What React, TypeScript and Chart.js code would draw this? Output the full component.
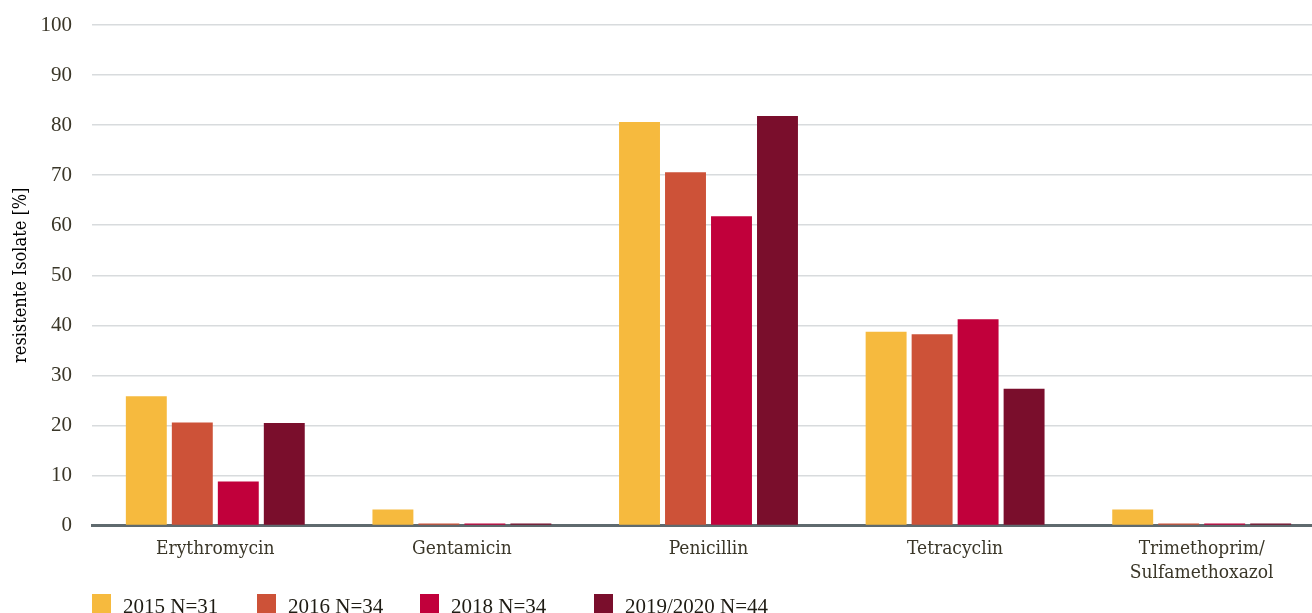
import React, { useEffect, useRef } from "react";
import { Chart, registerables } from "chart.js";

Chart.register(...registerables);

const categories: (string | string[])[] = [
  "Erythromycin",
  "Gentamicin",
  "Penicillin",
  "Tetracyclin",
  ["Trimethoprim/", "Sulfamethoxazol"],
];

const seriesLabels = ["2015 N=31", "2016 N=34", "2018 N=34", "2019/2020 N=44"];
const values2015 = [25.8, 3.2, 80.6, 38.7, 3.2];
const values2016 = [20.6, 0, 70.6, 38.2, 0];
const values2018 = [8.8, 0, 61.8, 41.2, 0];
const values2019 = [20.5, 0, 81.8, 27.3, 0];
const seriesColors = ["#F6BA3E", "#CD5238", "#C1003B", "#7A0E2C"];
const yTicks = [0, 10, 20, 30, 40, 50, 60, 70, 80, 90, 100];

const NUM_FONT = "'Liberation Serif', serif";
const TXT_FONT = "'DejaVu Serif Condensed', 'DejaVu Serif', serif";
const TEXT = "#3a3628";
const legendLefts = [92, 257, 420, 594];

export default function App() {
  const ref = useRef<HTMLCanvasElement>(null);
  useEffect(() => {
    document.body.style.margin = "0";
    const seriesValues = [values2015, values2016, values2018, values2019];
    const chart = new Chart(ref.current!, {
      type: "bar",
      data: {
        labels: categories,
        datasets: seriesLabels.map((l, i) => ({
          label: l,
          data: seriesValues[i],
          backgroundColor: seriesColors[i],
          categoryPercentage: 0.746,
          barPercentage: 0.89,
          minBarLength: 2,
          borderWidth: 0,
        })),
      },
      options: {
        animation: false,
        responsive: false,
        maintainAspectRatio: false,
        layout: { padding: { top: 25, left: 6, right: 0, bottom: 4 } },
        plugins: {
          legend: { display: false },
          tooltip: { enabled: false },
        },
        scales: {
          x: {
            grid: { display: false, drawTicks: false },
            border: { display: true, color: "#5f6a6e", width: 3 },
            ticks: {
              color: TEXT,
              font: { family: TXT_FONT, size: 19, lineHeight: 1.25 },
              padding: 12,
              maxRotation: 0,
            },
          },
          y: {
            min: 0,
            max: 100,
            afterBuildTicks: (axis: any) => {
              axis.ticks = yTicks.map((v) => ({ value: v }));
            },
            afterFit: (axis: any) => {
              axis.width = 86;
              axis.paddingTop = 0;
              axis.paddingBottom = 0;
            },
            grid: {
              color: "#d8dbdd",
              lineWidth: 1.5,
              drawTicks: false,
            },
            border: { display: false },
            ticks: {
              color: TEXT,
              font: { family: NUM_FONT, size: 21 },
              padding: 20,
            },
            title: {
              display: true,
              text: "resistente Isolate [%]",
              color: "#000",
              font: { family: TXT_FONT, size: 18 },
              padding: { top: 5, bottom: 0 },
            },
          },
        },
      },
    });
    return () => chart.destroy();
  }, []);

  return (
    <div style={{ position: "relative", width: 1312, height: 613, overflow: "hidden" }}>
      <canvas ref={ref} width={1325} height={601} style={{ display: "block" }} />
      {seriesLabels.map((l, i) => (
        <div
          key={l}
          style={{
            position: "absolute",
            left: legendLefts[i],
            top: 594,
            display: "flex",
            alignItems: "flex-start",
            fontFamily: NUM_FONT,
            fontSize: 21,
            color: "#1f1c14",
            lineHeight: "21px",
            whiteSpace: "nowrap",
          }}
        >
          <div style={{ width: 19, height: 19, background: seriesColors[i], marginRight: 12 }} />
          <span style={{ marginTop: 2 }}>{l}</span>
        </div>
      ))}
    </div>
  );
}
